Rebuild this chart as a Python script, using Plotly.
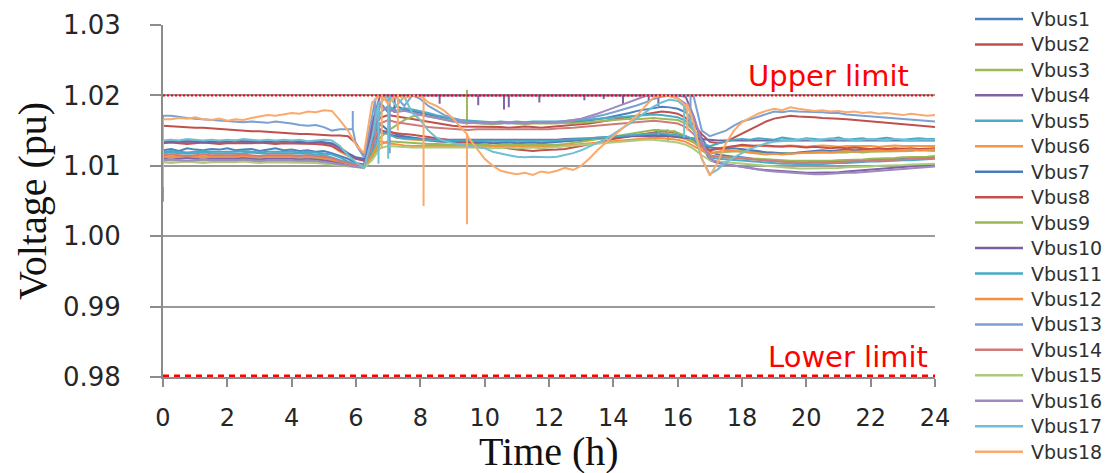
import plotly.graph_objects as go

# Sampling instants over the day (hours), every 15 minutes
HOURS = [i * 0.25 for i in range(97)]

# Bus voltages, stored as deviation above 1.0 pu in units of 1e-4 pu
VBUS1 = [122, 124, 121, 125, 123, 122, 124, 123,
         125, 122, 123, 124, 121, 123, 125, 122,
         123, 121, 122, 120, 121, 118, 114, 110,
         104, 102, 150, 190, 176, 185, 180, 178,
         176, 173, 170, 168, 166, 164, 163, 162,
         162, 161, 162, 161, 160, 161, 162, 161,
         161, 162, 161, 162, 163, 164, 166, 168,
         170, 172, 175, 178, 180, 182, 184, 183,
         181, 176, 165, 140, 120, 116, 114, 113,
         112, 110, 109, 108, 107, 106, 106, 105,
         105, 106, 105, 106, 107, 106, 107, 108,
         108, 109, 109, 110, 110, 111, 111, 112,
         112]
VBUS2 = [157, 156, 156, 155, 154, 154, 153, 152,
         151, 151, 150, 149, 149, 148, 147, 147,
         146, 145, 145, 144, 144, 143, 143, 142,
         132, 114, 150, 168, 172, 170, 168, 167,
         165, 162, 160, 158, 157, 156, 156, 155,
         155, 156, 155, 154, 155, 156, 155, 154,
         155, 156, 156, 157, 158, 160, 162, 164,
         166, 168, 170, 172, 174, 176, 177, 176,
         174, 168, 158, 145, 134, 132, 134, 140,
         146, 152, 158, 163, 167, 169, 171, 170,
         170, 169, 168, 168, 167, 166, 165, 164,
         163, 162, 160, 159, 158, 157, 156, 155,
         155]
VBUS3 = [112, 113, 112, 111, 112, 113, 112, 111,
         112, 112, 113, 112, 111, 112, 112, 113,
         112, 111, 112, 111, 110, 108, 105, 103,
         101, 100, 118, 140, 150, 158, 165, 170,
         172, 170, 168, 166, 164, 162, 161, 160,
         160, 159, 160, 161, 160, 159, 160, 160,
         159, 160, 161, 160, 161, 162, 163, 164,
         165, 166, 167, 166, 167, 168, 167, 166,
         165, 160, 150, 130, 118, 119, 120, 121,
         121, 120, 120, 119, 119, 118, 118, 119,
         118, 118, 119, 118, 119, 119, 120, 119,
         120, 120, 121, 120, 121, 121, 122, 121,
         121]
VBUS4 = [110, 109, 110, 111, 110, 109, 110, 110,
         109, 110, 111, 110, 109, 110, 110, 111,
         110, 109, 110, 109, 108, 106, 104, 102,
         100, 99, 160, 200, 200, 200, 200, 200,
         200, 200, 200, 200, 200, 200, 200, 200,
         200, 200, 200, 200, 200, 200, 200, 200,
         200, 200, 200, 200, 200, 200, 200, 200,
         200, 200, 200, 200, 200, 200, 200, 200,
         200, 198, 170, 130, 108, 104, 102, 100,
         98, 96, 95, 94, 93, 92, 91, 91,
         90, 90, 90, 91, 91, 92, 93, 93,
         94, 95, 96, 97, 98, 99, 100, 101,
         102]
VBUS5 = [118, 119, 118, 117, 118, 119, 118, 117,
         118, 117, 118, 119, 118, 117, 118, 118,
         117, 118, 117, 116, 115, 112, 108, 104,
         100, 98, 130, 175, 185, 178, 182, 180,
         178, 175, 172, 169, 167, 165, 164, 163,
         163, 162, 163, 162, 163, 162, 163, 163,
         162, 163, 163, 164, 165, 166, 167, 168,
         169, 170, 171, 172, 173, 173, 172, 171,
         169, 164, 152, 130, 112, 110, 109, 108,
         107, 106, 105, 104, 104, 103, 103, 102,
         102, 102, 103, 103, 104, 104, 105, 105,
         106, 106, 107, 107, 108, 108, 109, 109,
         110]
VBUS6 = [133, 134, 133, 132, 133, 134, 133, 132,
         133, 134, 133, 133, 132, 134, 133, 133,
         134, 133, 132, 133, 132, 128, 120, 114,
         110, 108, 125, 150, 145, 140, 138, 137,
         136, 135, 135, 134, 134, 134, 133, 134,
         134, 133, 134, 133, 134, 134, 133, 134,
         134, 135, 135, 136, 137, 138, 139, 140,
         141, 142, 143, 143, 144, 144, 143, 142,
         141, 138, 133, 126, 122, 125, 127, 128,
         128, 127, 129, 128, 127, 128, 129, 128,
         127, 128, 129, 128, 127, 128, 128, 129,
         128, 127, 128, 129, 128, 128, 127, 128,
         128]
VBUS7 = [135, 135, 136, 135, 135, 134, 135, 135,
         135, 136, 135, 135, 134, 135, 135, 136,
         135, 135, 134, 135, 134, 132, 126, 118,
         112, 110, 135, 160, 150, 145, 142, 140,
         138, 136, 135, 134, 134, 133, 133, 133,
         133, 132, 133, 133, 132, 133, 133, 132,
         133, 133, 134, 135, 136, 137, 138, 139,
         140, 141, 142, 143, 143, 144, 144, 143,
         142, 140, 136, 130, 126, 125, 124, 125,
         124, 122, 121, 119, 118, 118, 117, 119,
         120, 121, 122, 121, 122, 123, 122, 123,
         123, 124, 123, 124, 124, 125, 124, 125,
         125]
VBUS8 = [132, 133, 132, 131, 132, 133, 132, 131,
         132, 132, 131, 132, 133, 132, 131, 132,
         132, 131, 132, 131, 130, 128, 122, 116,
         110, 107, 128, 150, 148, 146, 145, 144,
         143, 141, 139, 137, 135, 134, 133, 132,
         130, 128, 126, 124, 123, 122, 121, 122,
         122, 123, 124, 126, 128, 130, 132, 135,
         138, 140, 142, 144, 146, 148, 149, 148,
         146, 142, 136, 128, 122, 124, 126, 128,
         130, 129, 128, 129, 128, 127, 128, 127,
         126, 127, 126, 125, 126, 125, 126, 125,
         124, 125, 124, 125, 124, 123, 124, 124,
         124]
VBUS9 = [107, 108, 107, 106, 107, 108, 107, 107,
         106, 107, 108, 107, 106, 107, 107, 108,
         107, 106, 107, 106, 105, 104, 102, 100,
         99, 98, 112, 130, 135, 134, 133, 132,
         132, 131, 131, 130, 130, 131, 130, 130,
         130, 129, 130, 130, 129, 130, 130, 129,
         130, 130, 131, 132, 134, 136, 138, 140,
         142, 144, 146, 148, 150, 151, 150, 149,
         147, 142, 134, 122, 114, 113, 112, 112,
         111, 110, 110, 109, 108, 108, 107, 107,
         107, 106, 107, 107, 108, 108, 109, 109,
         110, 110, 111, 111, 112, 112, 113, 113,
         114]
VBUS10 = [134, 134, 135, 134, 134, 133, 134, 134,
          134, 135, 134, 134, 133, 134, 134, 135,
          134, 134, 133, 134, 133, 131, 125, 117,
          111, 108, 130, 152, 145, 142, 140, 139,
          138, 138, 137, 137, 137, 137, 137, 137,
          137, 137, 136, 137, 137, 137, 136, 137,
          137, 137, 138, 138, 139, 139, 140, 140,
          141, 141, 142, 142, 143, 143, 143, 142,
          141, 140, 138, 137, 136, 136, 136, 136,
          136, 136, 136, 136, 136, 136, 136, 136,
          136, 136, 136, 136, 136, 136, 136, 136,
          136, 136, 136, 136, 136, 136, 136, 136,
          136]
VBUS11 = [120, 121, 120, 119, 120, 121, 120, 120,
          119, 120, 121, 120, 119, 120, 120, 121,
          120, 119, 120, 119, 118, 116, 112, 106,
          102, 100, 120, 148, 145, 140, 139, 138,
          137, 137, 136, 136, 136, 136, 136, 136,
          136, 135, 136, 136, 135, 136, 136, 135,
          136, 136, 137, 137, 138, 139, 140, 141,
          142, 143, 144, 145, 145, 146, 146, 145,
          144, 142, 138, 132, 128, 132, 135, 137,
          138, 137, 139, 138, 137, 140, 138, 137,
          139, 138, 137, 138, 140, 137, 138, 139,
          137, 138, 140, 138, 137, 138, 139, 138,
          138]
VBUS12 = [113, 112, 113, 114, 113, 112, 113, 113,
          112, 113, 114, 113, 112, 113, 113, 112,
          113, 112, 113, 112, 111, 109, 106, 103,
          101, 100, 115, 135, 132, 130, 129, 128,
          128, 128, 127, 128, 128, 127, 128, 128,
          128, 127, 128, 128, 127, 128, 128, 127,
          128, 128, 129, 130, 131, 132, 134, 135,
          136, 137, 138, 139, 140, 140, 139, 138,
          137, 134, 128, 122, 118, 120, 122, 121,
          120, 118, 117, 116, 117, 116, 117, 118,
          118, 119, 120, 119, 120, 121, 120, 121,
          121, 122, 121, 122, 122, 123, 122, 123,
          123]
VBUS13 = [171, 171, 169, 168, 167, 166, 165, 164,
          164, 163, 162, 163, 162, 161, 163, 162,
          160, 158, 157, 158, 155, 150, 152, 152,
          130, 112, 170, 200, 192, 198, 185, 200,
          195, 185, 178, 172, 168, 165, 162, 161,
          160, 161, 160, 162, 161, 160, 161, 162,
          161, 162, 163, 164, 166, 168, 170, 173,
          176, 179, 182, 186, 190, 195, 198, 200,
          200, 200, 198, 150, 142, 146, 150, 157,
          163, 166, 170, 173, 177, 176, 178, 177,
          177, 176, 176, 175, 175, 173, 172, 171,
          170, 169, 168, 167, 166, 165, 165, 164,
          163]
VBUS14 = [115, 116, 115, 114, 115, 116, 115, 115,
          114, 115, 116, 115, 114, 115, 115, 116,
          115, 114, 115, 114, 113, 111, 107, 104,
          101, 100, 128, 160, 165, 162, 160, 158,
          157, 155, 154, 153, 152, 152, 151, 152,
          152, 151, 152, 152, 151, 152, 152, 151,
          152, 153, 153, 154, 155, 156, 158, 159,
          160, 161, 162, 163, 164, 164, 163, 162,
          160, 155, 145, 128, 115, 113, 112, 111,
          110, 109, 108, 107, 106, 105, 105, 104,
          104, 104, 105, 105, 105, 106, 106, 107,
          107, 108, 108, 109, 109, 110, 110, 111,
          111]
VBUS15 = [105, 104, 105, 106, 105, 104, 105, 105,
          104, 105, 106, 105, 104, 105, 105, 104,
          105, 104, 105, 104, 103, 102, 100, 99,
          98, 97, 108, 125, 128, 127, 127, 126,
          126, 126, 127, 126, 126, 127, 126, 126,
          126, 125, 126, 126, 125, 126, 126, 125,
          126, 126, 127, 128, 129, 130, 131, 132,
          133, 134, 135, 136, 137, 137, 136, 135,
          133, 130, 124, 115, 108, 106, 105, 104,
          103, 101, 100, 99, 98, 97, 97, 96,
          96, 96, 96, 97, 97, 98, 98, 99,
          99, 100, 100, 101, 101, 102, 102, 103,
          103]
VBUS16 = [108, 109, 108, 107, 108, 109, 108, 108,
          107, 108, 109, 108, 107, 108, 108, 109,
          108, 107, 108, 107, 106, 104, 102, 100,
          98, 97, 140, 185, 180, 176, 178, 175,
          172, 170, 168, 165, 163, 162, 161, 161,
          161, 160, 161, 160, 161, 161, 160, 161,
          161, 162, 163, 165, 167, 170, 174, 178,
          182, 186, 190, 195, 199, 200, 200, 199,
          196, 188, 170, 135, 110, 105, 102, 100,
          98, 96, 94, 93, 92, 91, 90, 89,
          89, 88, 88, 89, 89, 90, 90, 91,
          92, 92, 93, 94, 95, 96, 97, 98,
          99]
VBUS17 = [136, 137, 136, 138, 137, 136, 137, 136,
          137, 136, 138, 137, 136, 137, 136, 137,
          136, 137, 135, 136, 137, 136, 128, 115,
          105, 97, 140, 190, 200, 185, 198, 175,
          165, 150, 140, 135, 132, 130, 128, 127,
          125, 120, 117, 115, 113, 112, 113, 112,
          112, 113, 115, 118, 122, 127, 132, 138,
          145, 152, 160, 168, 176, 184, 190, 194,
          192, 180, 150, 110, 88, 95, 105, 112,
          118, 124, 128, 132, 134, 135, 136, 137,
          138, 136, 137, 139, 137, 138, 136, 137,
          138, 137, 136, 138, 137, 136, 137, 137,
          137]
VBUS18 = [166, 166, 168, 167, 169, 166, 165, 167,
          164, 166, 165, 168, 170, 172, 171, 173,
          175, 174, 177, 176, 179, 178, 165, 150,
          130, 118, 190, 200, 188, 200, 196, 200,
          199, 190, 185, 178, 168, 155, 140, 125,
          110, 100, 93, 90, 88, 90, 87, 92,
          90, 93, 97, 94, 100, 110, 122, 132,
          142, 152, 162, 172, 185, 197, 200, 199,
          196, 185, 160, 110, 86, 105, 132, 150,
          162, 168, 174, 178, 181, 179, 183, 181,
          180, 178, 179, 177, 178, 176, 177, 175,
          176, 174, 175, 173, 172, 174, 172, 171,
          172]

# Short transients: (hour, level before/after, extreme level), same 1e-4 pu units
SPIKES3 = [(9.45, 160, 208)]
SPIKES4 = [(7.2, 200, 175), (8.6, 200, 188), (9.8, 200, 186), (10.6, 200, 180),
           (10.75, 200, 183), (11.7, 200, 190), (13.1, 200, 193), (13.7, 200, 195),
           (14.3, 200, 187), (15.1, 200, 190), (15.4, 200, 185)]
SPIKES9 = [(15.4, 151, 138), (15.7, 150, 135), (15.9, 149, 140)]
SPIKES13 = [(0.0, 171, 49), (5.9, 152, 178), (6.6, 195, 130), (7.05, 198, 118),
            (16.4, 200, 155)]
SPIKES17 = [(6.7, 190, 103), (7.0, 200, 110), (16.2, 185, 140)]
SPIKES18 = [(0.0, 166, 70), (6.8, 200, 125), (7.3, 200, 150), (8.1, 196, 43),
            (9.45, 145, 17), (16.3, 188, 150)]

SERIES = [VBUS1, VBUS2, VBUS3, VBUS4, VBUS5, VBUS6, VBUS7, VBUS8, VBUS9,
          VBUS10, VBUS11, VBUS12, VBUS13, VBUS14, VBUS15, VBUS16, VBUS17, VBUS18]
SPIKES = [[], [], SPIKES3, SPIKES4, [], [], [], [], SPIKES9,
          [], [], [], SPIKES13, [], [], [], SPIKES17, SPIKES18]
NAMES = [f"Vbus{i}" for i in range(1, 19)]
COLORS = ["#4F81BD", "#C0504D", "#9BBB59", "#8064A2", "#4BACC6", "#F79646",
          "#4A7CBA", "#C4504E", "#98B955", "#7B60A0", "#46AAC4", "#F59040",
          "#7BA0D1", "#CF7B79", "#AECA7E", "#9E8AC0", "#6FC0D4", "#F9AA6C"]

UPPER_LIMIT = 1.02
LOWER_LIMIT = 0.98
X_TICKS = list(range(0, 25, 2))
Y_TICKS = [0.98, 0.99, 1.00, 1.01, 1.02, 1.03]


def to_pu(u):
    return 1.0 + u / 10000.0


def series_points(values, spikes):
    pts = [(t, to_pu(u)) for t, u in zip(HOURS, values)]
    for t, base, peak in spikes:
        idx = next(i for i, p in enumerate(pts) if p[0] > t)
        pts[idx:idx] = [(t, to_pu(base)), (t, to_pu(peak)), (t, to_pu(base))]
    xs, ys = zip(*pts)
    return list(xs), list(ys)


fig = go.Figure()
for name, color, vals, spk in zip(NAMES, COLORS, SERIES, SPIKES):
    xs, ys = series_points(vals, spk)
    fig.add_trace(go.Scatter(x=xs, y=ys, mode="lines", name=name,
                             line=dict(color=color, width=2),
                             showlegend=False, hoverinfo="skip"))

# Voltage limits
fig.add_shape(type="line", xref="x", yref="y", x0=0, x1=24,
              y0=UPPER_LIMIT, y1=UPPER_LIMIT,
              line=dict(color="#FF0000", width=2, dash="2px,2px"))
fig.add_shape(type="line", xref="x", yref="y", x0=0, x1=24,
              y0=LOWER_LIMIT, y1=LOWER_LIMIT,
              line=dict(color="#FF0000", width=5, dash="6px,5px"))
fig.add_annotation(x=20.7, y=1.0228, xref="x", yref="y", text="Upper limit",
                   showarrow=False, xanchor="center", yanchor="middle",
                   font=dict(family="DejaVu Sans", size=29, color="#FF0000"))
fig.add_annotation(x=21.3, y=0.9828, xref="x", yref="y", text="Lower limit",
                   showarrow=False, xanchor="center", yanchor="middle",
                   font=dict(family="DejaVu Sans", size=29, color="#FF0000"))

# Page and plot-area geometry (pixels)
W, H = 1112, 473
L, R, T, B = 163, 935, 25, 377
def px_x(px):
    return (px - L) / (R - L)
def px_y(py):
    return (B - py) / (B - T)

# Axis titles
fig.add_annotation(x=px_x(549), y=px_y(451), xref="paper", yref="paper",
                   text="Time (h)", showarrow=False, xanchor="center",
                   yanchor="middle", borderpad=0,
                   font=dict(family="Liberation Serif", size=40, color="#111111"))
fig.add_annotation(x=px_x(32), y=px_y(201), xref="paper", yref="paper",
                   text="Voltage (pu)", showarrow=False, textangle=-90,
                   xanchor="center", yanchor="middle",
                   font=dict(family="Liberation Serif", size=40, color="#111111"))

# Legend drawn beside the plot area
for i, (name, color) in enumerate(zip(NAMES, COLORS)):
    yy = px_y(19 + i * 25.45)
    fig.add_shape(type="line", xref="paper", yref="paper",
                  x0=px_x(975), x1=px_x(1023), y0=yy, y1=yy,
                  line=dict(color=color, width=2.5))
    fig.add_annotation(x=px_x(1029), y=yy, xref="paper", yref="paper",
                       text=name, showarrow=False, xanchor="left",
                       yanchor="middle",
                       font=dict(family="DejaVu Sans", size=19, color="#303030"))

fig.update_layout(
    width=W, height=H,
    margin=dict(l=L, r=W - R, t=T, b=H - B, pad=0, autoexpand=False),
    paper_bgcolor="white", plot_bgcolor="white",
    showlegend=False,
)
fig.update_xaxes(
    range=[0, 24], tickvals=X_TICKS, ticks="outside", ticklen=8,
    tickcolor="#8c8c8c", tickwidth=1.5, showline=True, linecolor="#8c8c8c",
    linewidth=1.5, showgrid=False, zeroline=False, ticklabelstandoff=10,
    automargin=False,
    tickfont=dict(family="DejaVu Sans", size=24, color="#262626"),
)
fig.update_yaxes(
    range=[0.98, 1.03], tickvals=Y_TICKS, tickformat=".2f", ticks="outside",
    ticklen=11, tickcolor="#8c8c8c", tickwidth=1.5, showline=True,
    linecolor="#8c8c8c", linewidth=2, showgrid=True, gridcolor="#9a9a9a",
    gridwidth=1.5, zeroline=False, ticklabelstandoff=24, automargin=False,
    tickfont=dict(family="DejaVu Sans", size=26, color="#262626"),
)

fig.write_html("out.html")
